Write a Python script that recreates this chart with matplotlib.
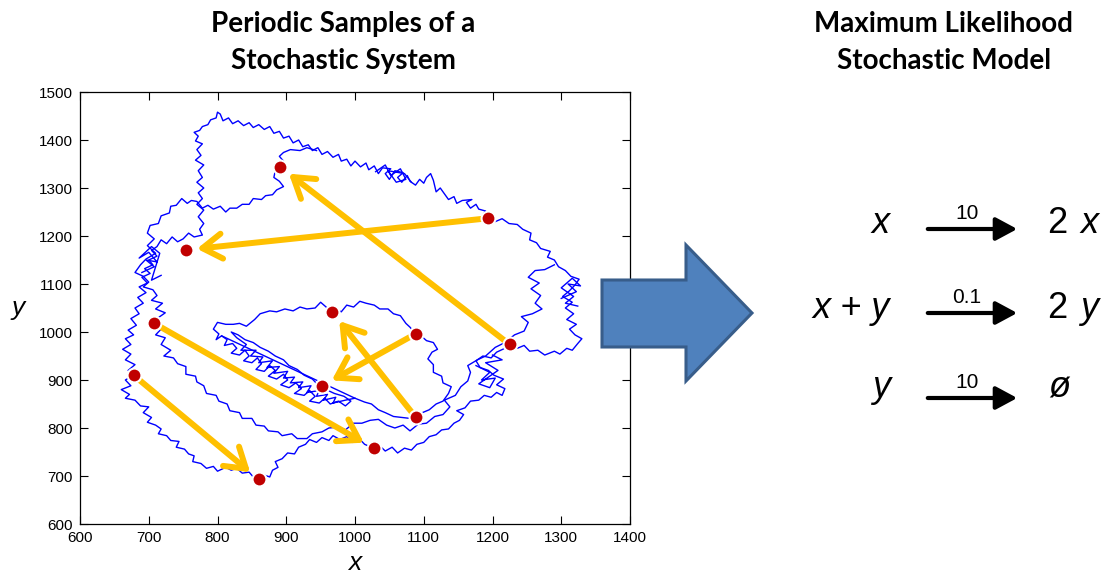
import numpy as np
import matplotlib
matplotlib.use("Agg")
import matplotlib.pyplot as plt
from matplotlib.patches import Polygon, FancyArrowPatch

plt.rcParams['font.family'] = ['Liberation Sans', 'DejaVu Sans']

# ---- data ----
# sampled states, as (start, end) pairs of one sampling period
start_x = [678, 708, 1088, 1088, 1225, 1194]
start_y = [910, 1018, 823, 996, 974, 1237]
end_x = [860, 1027, 967, 952, 891, 754]
end_y = [693, 758, 1041, 888, 1344, 1171]

# the stochastic trajectory, traced by hand in strands (x, y)
outer_loop = [
    (1194, 1237), (1186, 1244), (1190, 1252), (1180, 1256), (1176, 1266), (1168, 1258),
    (1162, 1270), (1170, 1276), (1156, 1274), (1148, 1268), (1144, 1282), (1136, 1276),
    (1130, 1288), (1124, 1300), (1118, 1292), (1114, 1316), (1110, 1330), (1104, 1322),
    (1100, 1310), (1094, 1318), (1088, 1306), (1080, 1314), (1076, 1326), (1068, 1312),
    (1062, 1322), (1070, 1332), (1058, 1336), (1050, 1318), (1044, 1330), (1052, 1340),
    (1040, 1342), (1034, 1330), (1028, 1346), (1020, 1338), (1016, 1352), (1008, 1344),
    (1000, 1356), (994, 1346), (988, 1360), (980, 1356), (976, 1370), (968, 1364),
    (960, 1376), (952, 1370), (946, 1384), (938, 1378), (932, 1390), (924, 1386),
    (918, 1400), (910, 1394), (904, 1408), (896, 1404), (890, 1418), (882, 1414),
    (876, 1428), (868, 1422), (860, 1432), (852, 1426), (846, 1436), (838, 1430),
    (830, 1440), (822, 1434), (816, 1446), (808, 1440), (804, 1454), (800, 1458),
    (798, 1446), (790, 1442), (786, 1432), (778, 1428), (774, 1420), (766, 1416),
    (772, 1408), (768, 1398), (778, 1392), (770, 1380), (776, 1368), (768, 1358),
    (780, 1348), (772, 1336), (778, 1322), (770, 1312), (780, 1300), (772, 1290),
    (778, 1278), (770, 1266), (780, 1254), (772, 1240), (780, 1226), (774, 1214),
    (778, 1202), (766, 1198), (758, 1206), (750, 1194), (742, 1188), (734, 1198),
    (726, 1184), (718, 1192), (712, 1178), (704, 1170), (712, 1158), (700, 1150),
    (706, 1140), (694, 1132), (702, 1122), (690, 1114), (698, 1102), (686, 1094),
    (696, 1082), (684, 1072), (692, 1060), (680, 1050), (686, 1038), (674, 1028),
    (682, 1014), (670, 1004), (678, 994), (666, 986), (674, 974), (662, 964),
    (674, 954), (666, 942), (680, 932), (670, 920), (678, 910), (666, 900),
    (674, 888), (660, 880), (672, 870), (666, 862), (680, 858), (688, 846),
    (700, 844), (692, 832), (704, 822), (698, 812), (710, 806), (718, 798),
    (714, 788), (726, 784), (732, 774), (744, 772), (740, 760), (752, 756),
    (758, 746), (766, 742), (764, 730), (776, 726), (784, 716), (794, 720),
    (800, 710), (812, 718), (820, 712), (828, 716), (836, 706), (846, 708),
    (852, 698), (860, 693), (868, 702), (876, 698), (880, 712), (888, 718),
    (884, 730), (894, 736), (902, 748), (912, 746), (918, 760), (928, 766),
    (934, 776), (944, 770), (952, 780), (962, 774), (968, 784), (978, 776),
    (988, 782), (996, 770), (1006, 778), (1014, 766), (1027, 758), (1034, 766),
    (1044, 752), (1054, 760), (1062, 748), (1072, 758), (1082, 754), (1090, 766),
    (1100, 770), (1108, 782), (1118, 786), (1126, 796), (1136, 798), (1144, 810),
    (1152, 816), (1158, 828), (1148, 836), (1160, 842), (1168, 856), (1180, 858),
    (1188, 868), (1198, 864), (1206, 874), (1214, 868), (1218, 882), (1206, 890),
    (1216, 902), (1202, 910), (1194, 920), (1182, 926), (1176, 940), (1186, 950),
    (1198, 946), (1206, 958), (1218, 966), (1225, 974), (1236, 966), (1246, 972),
    (1254, 960), (1266, 962), (1276, 952), (1290, 960), (1298, 954), (1308, 966),
    (1316, 962), (1324, 976), (1330, 986), (1320, 994), (1312, 1006), (1322, 1016),
    (1308, 1026), (1318, 1038), (1306, 1050), (1316, 1062), (1302, 1074), (1312, 1086),
    (1320, 1098), (1326, 1110), (1314, 1116), (1306, 1128), (1296, 1136), (1290, 1150),
    (1280, 1156), (1284, 1168), (1270, 1174), (1264, 1186), (1254, 1192), (1256, 1206),
    (1244, 1214), (1236, 1224), (1224, 1226), (1214, 1236), (1204, 1230), (1194, 1237),
]

middle_loop = [
    (944, 1378), (930, 1384), (920, 1378), (906, 1380), (896, 1374), (890, 1366),
    (896, 1356), (891, 1344), (884, 1336), (882, 1322), (890, 1314), (896, 1303),
    (886, 1296), (880, 1286), (870, 1284), (864, 1276), (852, 1278), (846, 1266),
    (836, 1266), (828, 1258), (818, 1258), (812, 1250), (804, 1262), (794, 1256),
    (786, 1264), (778, 1258), (770, 1272), (762, 1274), (756, 1268), (748, 1278),
    (740, 1264), (732, 1262), (730, 1248), (718, 1242), (714, 1226), (702, 1222),
    (698, 1206), (708, 1194), (698, 1180), (710, 1164), (696, 1152), (688, 1140),
    (680, 1124), (692, 1116), (700, 1104), (692, 1094), (706, 1088), (712, 1076),
    (704, 1066), (720, 1060), (710, 1048), (724, 1040), (714, 1030), (708, 1018),
    (718, 1006), (710, 994), (724, 988), (718, 974), (732, 962), (722, 950),
    (736, 946), (742, 934), (754, 928), (754, 912), (768, 908), (770, 896),
    (780, 888), (784, 872), (798, 868), (802, 856), (814, 850), (818, 836),
    (832, 832), (836, 820), (850, 820), (856, 806), (868, 804), (874, 794),
    (888, 792), (894, 784), (908, 788), (916, 778), (930, 778), (938, 788),
    (952, 792), (962, 800), (976, 802), (986, 796), (998, 810), (1010, 810),
    (1022, 816), (1034, 818), (1046, 806), (1058, 800), (1070, 806), (1080, 794),
    (1092, 808), (1104, 810), (1116, 824), (1128, 828), (1138, 844), (1130, 858),
    (1146, 868), (1154, 886), (1164, 898), (1168, 916), (1164, 930), (1178, 942),
    (1190, 950), (1204, 968), (1218, 978), (1232, 994), (1246, 1002), (1252, 1020),
    (1242, 1032), (1258, 1038), (1272, 1048), (1262, 1060), (1270, 1076), (1256, 1090),
    (1268, 1102), (1252, 1114), (1262, 1128), (1276, 1130), (1290, 1140),
]

inner_loop = [
    (1088, 996), (1080, 1010), (1074, 1018), (1066, 1034), (1056, 1038), (1048, 1048),
    (1036, 1048), (1028, 1056), (1016, 1060), (1007, 1064), (998, 1052), (988, 1056),
    (980, 1042), (972, 1048), (966, 1041), (958, 1052), (950, 1062), (942, 1050),
    (930, 1048), (920, 1052), (910, 1044), (898, 1048), (886, 1042), (876, 1044),
    (862, 1038), (854, 1026), (842, 1012), (832, 1018), (823, 1016), (812, 1016),
    (800, 1020), (794, 1006), (802, 996), (798, 984), (806, 992),
    (1000, 862), (1014, 854), (1024, 850), (1034, 838), (1044, 832),
    (1056, 824), (1068, 822), (1080, 820), (1088, 823), (1098, 832), (1108, 838),
    (1118, 850), (1128, 856), (1136, 872), (1140, 886), (1128, 894), (1126, 908),
    (1114, 916), (1114, 932), (1106, 944), (1112, 958), (1120, 964), (1114, 978),
    (1104, 982), (1096, 992), (1088, 996),
]

# dense scribble left of the inner centre, wandering down the band to its lower edge
inner_cluster = [
    (806, 992), (814, 984), (810, 972), (822, 976), (828, 966), (820, 956),
    (832, 952), (840, 962), (846, 950), (838, 940), (850, 936), (858, 946),
    (864, 934), (856, 922), (868, 918), (876, 930), (884, 920), (874, 908),
    (886, 902), (896, 912), (902, 900), (892, 890), (904, 884), (914, 894),
    (922, 882), (912, 872), (926, 868), (934, 878), (942, 866), (934, 856),
    (948, 852), (956, 862), (964, 850), (976, 856), (986, 846), (994, 856),
    (984, 866), (970, 872), (958, 880), (946, 890), (938, 902), (926, 910),
    (916, 922), (904, 930), (896, 942), (884, 950), (874, 960), (862, 968),
    (852, 978), (840, 984), (830, 994), (820, 1000), (828, 988), (842, 974),
    (834, 962), (856, 962), (848, 950), (866, 948), (860, 936), (880, 940),
    (872, 926), (890, 928), (882, 914), (902, 918), (896, 904), (912, 906),
    (906, 894), (924, 896), (918, 884), (936, 888), (930, 874), (948, 878),
    (944, 866), (960, 870), (954, 858), (972, 864), (968, 852), (986, 858),
    (1000, 862),
]

# small dense tufts along the path
tuft_top = [
    (1030, 1334), (1044, 1348), (1052, 1326), (1066, 1340), (1074, 1318), (1060, 1312),
    (1048, 1336), (1072, 1330), (1082, 1312),
]
tuft_right = [
    (1300, 1070), (1322, 1084), (1310, 1100), (1328, 1096), (1316, 1112), (1300, 1092),
    (1318, 1074), (1306, 1060), (1324, 1054),
]
tuft_lower_right = [
    (1176, 930), (1196, 916), (1184, 900), (1204, 904), (1196, 884), (1180, 892),
    (1208, 920), (1190, 936), (1214, 942), (1200, 952),
]
tuft_left = [
    (690, 1124), (708, 1136), (696, 1150), (712, 1146), (700, 1166), (686, 1154),
    (704, 1178), (716, 1164), (704, 1108), (718, 1118),
]

# ---- figure ----
W, H = 1106, 577
fig = plt.figure(figsize=(W / 100, H / 100), dpi=100)


def fx(px):
    return px / W


def fy(py):
    return 1 - py / H


ax = fig.add_axes([fx(80), fy(524), fx(630) - fx(80), fy(92) - fy(524)])

strands = [outer_loop, middle_loop, inner_loop, inner_cluster,
           tuft_top, tuft_right, tuft_lower_right, tuft_left]
for strand in strands:
    arr = np.array(strand)
    ax.plot(arr[:, 0], arr[:, 1], color='#0000FF', lw=1.0, zorder=1)

for x0, y0, x1, y1 in zip(start_x, start_y, end_x, end_y):
    ax.annotate('', xy=(x1, y1), xytext=(x0, y0),
                arrowprops=dict(arrowstyle='->,head_length=0.7,head_width=0.45',
                                color='#FFC000', lw=4.3, shrinkA=5, shrinkB=8,
                                mutation_scale=20),
                zorder=2)

ax.plot(start_x + end_x, start_y + end_y, 'o', ms=10, color='#C00000',
        mec='white', mew=1.5, zorder=3, clip_on=False)

ax.set_xlim(600, 1400)
ax.set_ylim(600, 1500)
ax.set_xticks(range(600, 1401, 100))
ax.set_yticks(range(600, 1501, 100))
ax.tick_params(direction='in', top=True, right=True, length=6, width=0.8,
               labelsize=11, pad=5)
for s in ax.spines.values():
    s.set_linewidth(0.9)

ax.set_xlabel('x', fontsize=19, style='italic', va='baseline')
ax.set_ylabel('y', fontsize=19, style='italic', rotation=0, va='center')
ax.xaxis.set_label_coords(0.5, -(570 - 524) / 432)
ax.yaxis.set_label_coords(-0.113, 0.5)

# titles
tfont = dict(family=['Lato', 'DejaVu Sans'], weight='bold', fontsize=20,
             ha='center', va='center')
fig.text(fx(343), fy(24), 'Periodic Samples of a', **tfont)
fig.text(fx(343), fy(61), 'Stochastic System', **tfont)
fig.text(fx(944), fy(24), 'Maximum Likelihood', **tfont)
fig.text(fx(944), fy(61), 'Stochastic Model', **tfont)

# big block arrow
arrow_px = [(602, 280), (686, 280), (686, 245), (752, 313), (686, 381), (686, 347), (602, 347)]
big = Polygon([(fx(a), fy(b)) for a, b in arrow_px], closed=True,
              facecolor='#4F81BD', edgecolor='#385D8A', lw=2.2,
              transform=fig.transFigure, zorder=5)
fig.add_artist(big)

# reactions
reactants = ['x', 'x + y', 'y']
rates = ['10', '0.1', '10']
products = [('2', 'x'), ('2', 'y'), ('', 'ø')]
rows = [233, 318, 397]
arrow_rows = [229, 313, 398]

for r, k, p, yb, ya in zip(reactants, rates, products, rows, arrow_rows):
    fig.text(fx(890), fy(yb), r, fontsize=26, style='italic', ha='right', va='baseline')
    fig.text(fx(967), fy(ya - 10), k, fontsize=15, ha='center', va='baseline')
    fa = FancyArrowPatch((fx(925), fy(ya)), (fx(1020), fy(ya)),
                         transform=fig.transFigure,
                         arrowstyle='-|>,head_length=0.65,head_width=0.35',
                         mutation_scale=20, lw=3, color='black')
    fig.add_artist(fa)
    if p[0]:
        fig.text(fx(1047), fy(yb), p[0], fontsize=26, ha='left', va='baseline')
        fig.text(fx(1080), fy(yb), p[1], fontsize=26, style='italic', ha='left', va='baseline')
    else:
        fig.text(fx(1048), fy(yb), p[1], fontsize=26, style='italic', ha='left', va='baseline')

fig.savefig('out.png', dpi=100)
